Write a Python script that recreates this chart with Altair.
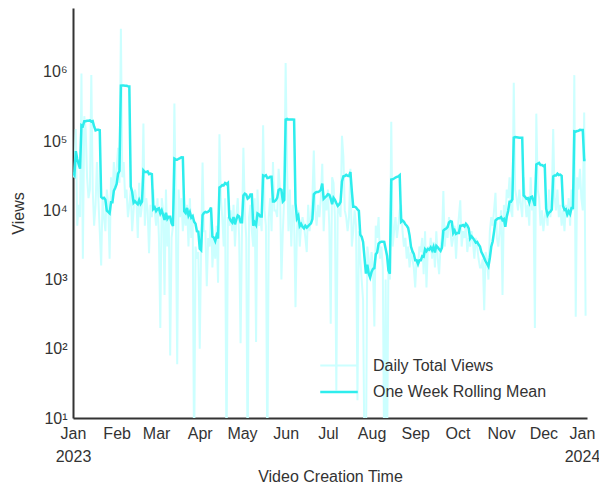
import altair as alt
import pandas as pd

# Daily total views, one array per month of 2023
jan = [35000, 30000, 150000, 6000, 12000, 8000, 950000, 2000, 230000, 150000,
       30000, 15000, 20000, 900000, 20000, 6000, 12000, 50000, 15000, 5000,
       1600, 15000, 8000, 5000, 20000, 12000, 2000, 30000, 15000, 50000, 20000]
feb = [40000, 80000, 25000, 4200000, 30000, 50000, 15000, 20000, 8000, 12000,
       20000, 5000, 10000, 20000, 15000, 4000, 25000, 8000, 12000, 180000,
       6000, 15000, 10000, 2400, 12000, 8000, 20000, 10000]
mar = [6000, 15000, 4000, 200, 15000, 10000, 600, 20000, 3000, 8000,
       80, 4000, 6000, 350000, 10000, 60, 20000, 8000, 15000, 5000,
       10000, 6000, 12000, 3000, 15000, 4000, 8000, 2, 3000, 2000, 2500]
apr = [100, 3000, 49000, 5000, 5000, 800, 4000, 3000, 10000, 1500,
       4000, 2000, 6000, 900, 126000, 15000, 8000, 3000, 15000, 2,
       8000, 6000, 10000, 5000, 12000, 3000, 8000, 15000, 4000, 120]
may = [5000, 80000, 10000, 4000, 2, 8000, 12000, 5000, 3000, 15000,
       125, 20000, 6000, 8000, 5000, 170000, 10000, 6000, 2, 8000,
       15000, 5000, 50000, 10000, 10000, 8000, 40000, 20000, 1000, 5000, 15000]
jun = [1350000, 40000, 5000, 20000, 3000, 12000, 8000, 400, 5000, 10000,
       3000, 6000, 8000, 6000, 4000, 2500, 12000, 5000, 8000, 15000,
       73000, 10000, 6000, 12000, 8000, 15000, 47000, 5000, 15000, 10000]
jul = [20000, 6000, 230, 30000, 25000, 8000, 25, 12000, 10000, 8000,
       120000, 60000, 10000, 8000, 5000, 8000, 40000, 3000, 5000, 10000,
       6000, 18, 5000, 2000, 1000, 500, 2, 2, 3000, 2000, 1000]
aug = [2500, 1500, 210, 6000, 4000, 8000, 2000, 3000, 1500, 2,
       1000, 2, 2000, 1000, 190000, 3000, 5000, 8000, 4000, 6000,
       10000, 12000, 5000, 3000, 4000, 2000, 3000, 1500, 2500, 2000, 1500]
sep = [770, 2000, 1500, 3000, 2500, 4000, 1200, 5000, 770, 3000,
       2500, 4000, 2000, 3500, 1500, 5000, 2000, 1200, 3000, 4000,
       19000, 3000, 6000, 4000, 8000, 5000, 3000, 4000, 6000, 2000]
oct_ = [5000, 8000, 14000, 3000, 5000, 4000, 6000, 2500, 4000, 3000,
        5000, 3500, 2000, 4000, 3000, 2000, 1500, 1500, 2000, 360,
        2500, 2000, 1000, 5000, 8000, 6000, 10000, 18000, 4000, 3000, 5000]
nov = [10000, 600, 12000, 6000, 20000, 15000, 30000, 10000, 8000, 700000,
       20000, 15000, 10000, 20000, 12000, 8000, 30000, 15000, 8000, 12000,
       6000, 30000, 10000, 15000, 200, 250000, 20000, 15000, 6000, 10000]
dec = [5000, 8000, 10000, 6000, 20000, 8000, 15000, 150000, 15000, 10000,
       20000, 8000, 12000, 6000, 10000, 5000, 12000, 8000, 15000, 6000,
       20000, 10000, 900000, 290, 30000, 20000, 40000, 15000, 10000, 260000, 300]

views = jan + feb + mar + apr + may + jun + jul + aug + sep + oct_ + nov + dec
assert len(views) == 365

series_names = ["Daily Total Views", "One Week Rolling Mean"]
series_colors = ["#CCFFFF", "#2EEDED"]
series_widths = [2, 2.5]
y_ticks = [10, 100, 1000, 10000, 100000, 1000000]
x_ticks = [alt.DateTime(year=2023, month=m, date=1) for m in range(1, 13)] + [
    alt.DateTime(year=2024, month=1, date=1)]

df = pd.DataFrame({
    "date": pd.date_range("2023-01-01", periods=365, freq="D"),
    "views": views,
})

FONT = "Liberation Sans"
TXT = "#333333"

legend = alt.Legend(
    title=None, orient="none", legendX=252, legendY=344,
    symbolType="M-1.5,0H1.5", symbolSize=625, labelOffset=20,
    labelFontSize=16, labelColor=TXT, labelFont=FONT, labelLimit=0,
    rowPadding=4, padding=0,
)

chart = alt.Chart(df).transform_window(
    rolling="mean(views)", frame=[-6, 0], sort=[alt.SortField("date")]
).transform_fold(
    ["views", "rolling"], as_=["key", "value"]
).transform_calculate(
    series="datum.key == 'views' ? 'Daily Total Views' : 'One Week Rolling Mean'"
).mark_line(clip=True).encode(
    x=alt.X(
        "date:T",
        title="Video Creation Time",
        scale=alt.Scale(domain=[alt.DateTime(year=2023, month=1, date=1),
                                alt.DateTime(year=2024, month=1, date=1)]),
        axis=alt.Axis(
            values=x_ticks, ticks=False, grid=False, labelFlush=False,
            labelOverlap=False, labelPadding=7, labelLineHeight=23,
            labelBaseline="top",
            labelOffset={"condition": {"test": "year(datum.value) == 2024", "value": -5},
                         "value": 0},
            labelExpr="month(datum.value) == 0 ? [timeFormat(datum.value, '%b'), timeFormat(datum.value, '%Y')] : timeFormat(datum.value, '%b')",
            titlePadding=4,
        ),
    ),
    y=alt.Y(
        "value:Q",
        title="Views",
        scale=alt.Scale(type="log", domain=[10, 8.4e6]),
        axis=alt.Axis(
            values=y_ticks, ticks=False, grid=False, labelFlush=False,
            labelOverlap=False, labelPadding=6,
            labelExpr="'10' + ['⁰','¹','²','³','⁴','⁵','⁶','⁷'][round(log(datum.value) / LN10)]",
            titlePadding=16,
        ),
    ),
    color=alt.Color("series:N", scale=alt.Scale(domain=series_names, range=series_colors),
                    legend=legend),
    strokeWidth=alt.StrokeWidth("series:N", scale=alt.Scale(domain=series_names, range=series_widths),
                                legend=legend),
).properties(
    width=514, height=410,
    autosize=alt.AutoSizeParams(type="none"),
    padding={"left": 65, "top": 0, "right": 12, "bottom": 68},
).configure_view(
    stroke=None
).configure_axis(
    domainColor=TXT, domainWidth=2, labelFont=FONT, titleFont=FONT,
    labelFontSize=16, titleFontSize=16, labelColor=TXT, titleColor=TXT,
    titleFontWeight="normal",
)

chart.save("out.html", embed_options={"renderer": "svg", "actions": False})
